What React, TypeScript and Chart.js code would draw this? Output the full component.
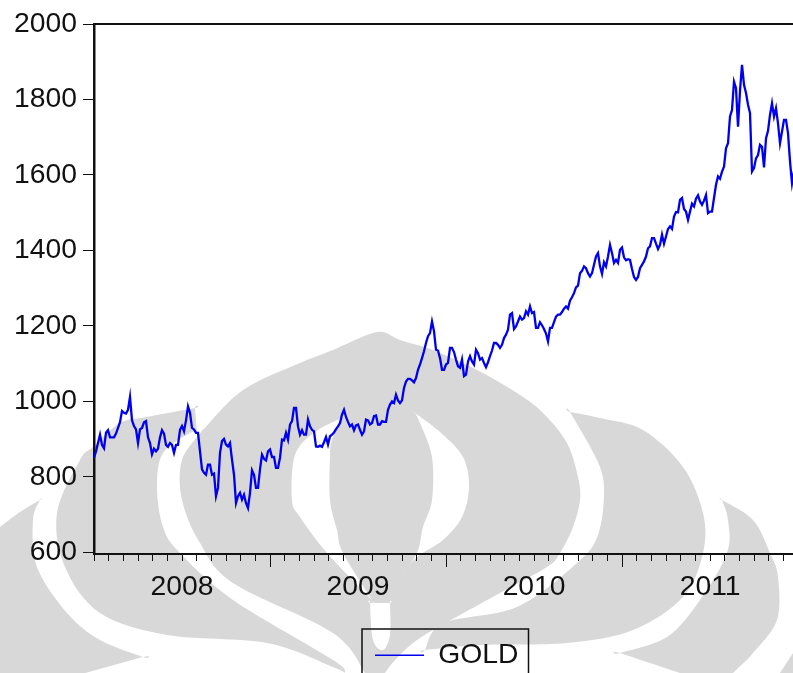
import React, { useEffect, useRef } from "react";
import { Chart, registerables } from "chart.js";

Chart.register(...registerables);

const seriesName = "GOLD";
const yTicks = [600, 800, 1000, 1200, 1400, 1600, 1800, 2000];
const yearLabels = ["2008", "2009", "2010", "2011"];

// Price, sampled about every third trading day
const goldEarly2008 = [851,868,890,912,885,876,917,924,905,905,905,915,930,945,975,970,968,978,1012,950,935,926,890,926,930,945,948,905,890,860,875,868,875,905,924,915,885,880,890,885,864,885,885,925,935,921,950,987,970,930,926,917,917,868];
const goldLate2008 = [820,811,806,833,833,806,809,749,771,864,895,901,886,881,890,846,806,731,749,758,740,753,731,718,758,818,806,771,771,820,859,848,844,868,873,853,853,824,824,851,899,897,917,899,939,948,983,983,934,912];
const gold2009a = [924,912,912,952,934,925,921,881,880,883,880,892,906,886,908,912,918,927,934,943,965,978,959,946,934,939,924,937,939,925,912,921,952,950,939,943,961,963,939,939,948,946,946,978,992,1000,996,1018,1003,996,1003,1036];
const gold2009b = [1053,1060,1060,1056,1051,1062,1084,1098,1115,1133,1155,1173,1181,1212,1186,1137,1135,1115,1084,1084,1098,1102,1142,1142,1131,1111,1093,1089,1111,1067,1071,1106,1120,1106,1098,1137,1128,1111,1115,1102,1091,1104,1120,1135,1155,1155,1150,1142,1150,1168,1177,1190,1230];
const gold2010a = [1234,1192,1199,1212,1225,1217,1221,1239,1230,1252,1234,1237,1195,1195,1210,1202,1192,1180,1159,1195,1195,1210,1225,1230,1230,1237,1246,1252,1246,1267,1276,1287,1302,1307,1340,1346,1358,1353,1340,1331,1340,1362,1384,1393,1358,1338,1369,1358,1384,1415,1393,1367];
const gold2010b = [1375,1367,1402,1408,1382,1374,1377,1375,1351,1330,1322,1330,1353,1362,1371,1384,1406,1411,1433,1433,1418,1404,1415,1442,1418,1437,1457,1464,1457,1490,1502,1501,1534,1539,1510,1503,1481,1503,1524,1517,1537,1546,1530,1521,1532,1547,1499,1503];
const gold2011 = [1503,1539,1574,1596,1590,1609,1622,1671,1684,1755,1772,1847,1830,1728,1823,1892,1839,1817,1786,1764,1609,1618,1644,1653,1680,1675,1620,1697,1717,1759,1790,1755,1777,1737,1684,1715,1746,1746,1711,1636,1578,1610];

const gold = [...goldEarly2008, ...goldLate2008, ...gold2009a, ...gold2009b, ...gold2010a, ...gold2010b, ...gold2011];

const OBS_PER_MONTH = 7.335;
const FONT = '"Liberation Sans", Arial, sans-serif';
const INK = "#111111";
const TEXT_SIZE = 28.3;

// Background watermark artwork (page image, not data). A repeated point is a sharp corner.
const watermarkShapes = [
  "203 430,203 430,243 390,300 363,333 350,367 335,383 332,400 340,433 350,477 370,517 393,543 413,567 443,578 477,580 500,573 527,560 553,547 567,500 593,460 615,433 630,413 643,395 660,385 673,385 673,365 673,365 673,333 633,233 583,200 543,182 500,182 460",
  "195 408,195 408,147 417,120 423,93 447,80 460,57 513,65 567,100 613,167 635,267 643,333 667,345 673,345 673,333 660,233 600,180 553,163 527,157 487,163 453,190 433,197 432,197 432",
  "40 500,40 500,20 512,0 527,0 527,0 673,0 673,85 673,85 673,143 657,143 657,100 640,67 613,37 567,33 520",
  "570 412,570 412,600 418,643 430,683 467,703 513,703 553,683 597,633 630,567 643,480 645,425 650,425 650,443 623,517 607,577 563,598 535,604 490,597 460",
  "722 500,722 500,753 520,770 553,778 577,777 620,753 653,733 673,733 673,680 673,680 673,620 653,620 653,667 637,700 600,727 553,728 520",
  "793 653,793 653,780 673,780 673,793 673,793 673",
];
const watermarkHoles = [
  "415 413,415 413,440 432,463 457,469 487,462 517,443 540,417 557,400 577,400 577,417 553,423 527,432 500,432 457,420 423",
  "342 418,342 418,315 432,295 455,292 500,300 517,327 553,372 600,372 600,343 553,337 530,330 500,330 457,332 440",
  "370 603,370 603,390 603,390 603,390 635,383 650,373 640",
];

function smoothPath(d: string): Path2D {
  const pts = d.split(",").map((s) => s.trim().split(" ").map(Number));
  const n = pts.length;
  const path = new Path2D();
  path.moveTo(pts[0][0], pts[0][1]);
  for (let i = 0; i < n; i++) {
    const p0 = pts[(i - 1 + n) % n];
    const p1 = pts[i];
    const p2 = pts[(i + 1) % n];
    const p3 = pts[(i + 2) % n];
    path.bezierCurveTo(
      p1[0] + (p2[0] - p0[0]) / 6,
      p1[1] + (p2[1] - p0[1]) / 6,
      p2[0] - (p3[0] - p1[0]) / 6,
      p2[1] - (p3[1] - p1[1]) / 6,
      p2[0],
      p2[1],
    );
  }
  path.closePath();
  return path;
}

const pagePlugin = {
  id: "page",
  beforeDraw(chart: any) {
    const { ctx } = chart;
    ctx.save();
    ctx.fillStyle = "#ffffff";
    ctx.fillRect(0, 0, chart.width, chart.height);
    ctx.fillStyle = "#d8d8d8";
    watermarkShapes.forEach((d) => ctx.fill(smoothPath(d)));
    ctx.fillStyle = "#ffffff";
    watermarkHoles.forEach((d) => ctx.fill(smoothPath(d)));
    ctx.restore();
  },
  afterLayout(chart: any) {
    const legend = chart.legend;
    if (legend) {
      const w = legend.width;
      const h = legend.height;
      legend.left = 375;
      legend.right = 375 + w;
      legend.top = 641;
      legend.bottom = 641 + h;
    }
  },
  afterDraw(chart: any) {
    const { ctx } = chart;
    const x = chart.scales.x;
    ctx.save();
    ctx.strokeStyle = INK;
    ctx.lineWidth = 1;
    ctx.beginPath();
    x.ticks.forEach((t: any) => {
      const m = Math.round(t.value / OBS_PER_MONTH);
      if (m > 0 && m % 12 === 0) {
        const px = Math.round(x.getPixelForValue(t.value)) + 0.5;
        ctx.moveTo(px, x.top);
        ctx.lineTo(px, x.top + 13);
      }
    });
    ctx.stroke();
    ctx.lineWidth = 1.5;
    ctx.strokeRect(362, 629, 166.5, 60);
    ctx.restore();
  },
};

export default function App() {
  const ref = useRef<HTMLCanvasElement | null>(null);
  useEffect(() => {
    if (!ref.current) return;
    const monthTicks = (scale: any) => {
      const list: any[] = [];
      for (let m = 0; m * OBS_PER_MONTH <= scale.max; m++) list.push({ value: m * OBS_PER_MONTH });
      scale.ticks = list;
    };
    const chart = new Chart(ref.current, {
      type: "line",
      data: {
        labels: gold.map((_, i) => i),
        datasets: [
          {
            label: seriesName,
            data: gold.map((v, i) => ({ x: i, y: v })),
            borderColor: "#0000f0",
            backgroundColor: "#0000f0",
            borderWidth: 2.3,
            pointRadius: 0,
            tension: 0,
          },
        ],
      },
      options: {
        animation: false,
        responsive: false,
        devicePixelRatio: 1,
        layout: { padding: 0 },
        parsing: false,
        scales: {
          x: {
            type: "linear",
            position: "bottom",
            min: 0,
            max: 349.5,
            afterBuildTicks: monthTicks,
            afterFit: (s: any) => { s.height = 119; },
            border: { color: INK, width: 2 },
            grid: { drawOnChartArea: false, tickLength: 7, tickColor: INK, tickWidth: 1 },
            ticks: {
              autoSkip: false,
              maxRotation: 0,
              minRotation: 0,
              padding: 9,
              color: INK,
              font: { family: FONT, size: TEXT_SIZE },
              callback: (v: any) => {
                const m = Math.round(Number(v) / OBS_PER_MONTH);
                return m % 12 === 6 ? yearLabels[(m - 6) / 12] : "";
              },
            },
          },
          top: {
            type: "linear",
            position: "top",
            min: 0,
            max: 349.5,
            afterFit: (s: any) => { s.height = 24; },
            border: { color: INK, width: 2 },
            grid: { drawOnChartArea: false, drawTicks: false },
            ticks: { display: false },
          },
          y: {
            type: "linear",
            position: "left",
            min: 596,
            max: 2000,
            afterBuildTicks: (s: any) => { s.ticks = yTicks.map((v) => ({ value: v })); },
            afterFit: (s: any) => { s.width = 94; },
            border: { color: INK, width: 2.5 },
            grid: { drawOnChartArea: false, tickLength: 11, tickColor: INK, tickWidth: 1 },
            ticks: {
              padding: 6,
              color: INK,
              font: { family: FONT, size: TEXT_SIZE },
              callback: (v: any) => String(v),
            },
          },
        },
        plugins: {
          title: { display: false },
          tooltip: { enabled: false },
          legend: {
            display: true,
            position: "chartArea",
            align: "start",
            labels: {
              usePointStyle: true,
              pointStyle: "line",
              pointStyleWidth: 49,
              padding: 0,
              color: INK,
              font: { family: FONT, size: TEXT_SIZE },
              generateLabels: (c: any) => [
                {
                  text: c.data.datasets[0].label,
                  strokeStyle: "#0000f0",
                  fillStyle: "#0000f0",
                  lineWidth: 1.5,
                  pointStyle: "line",
                  fontColor: INK,
                  datasetIndex: 0,
                },
              ],
            },
          },
        },
      },
      plugins: [pagePlugin],
    } as any);
    return () => chart.destroy();
  }, []);
  return (
    <div style={{ position: "fixed", left: 0, top: 0, width: 793, height: 673, overflow: "hidden" }}>
      <canvas ref={ref} width={793} height={673} style={{ display: "block", width: 793, height: 673 }} />
    </div>
  );
}
